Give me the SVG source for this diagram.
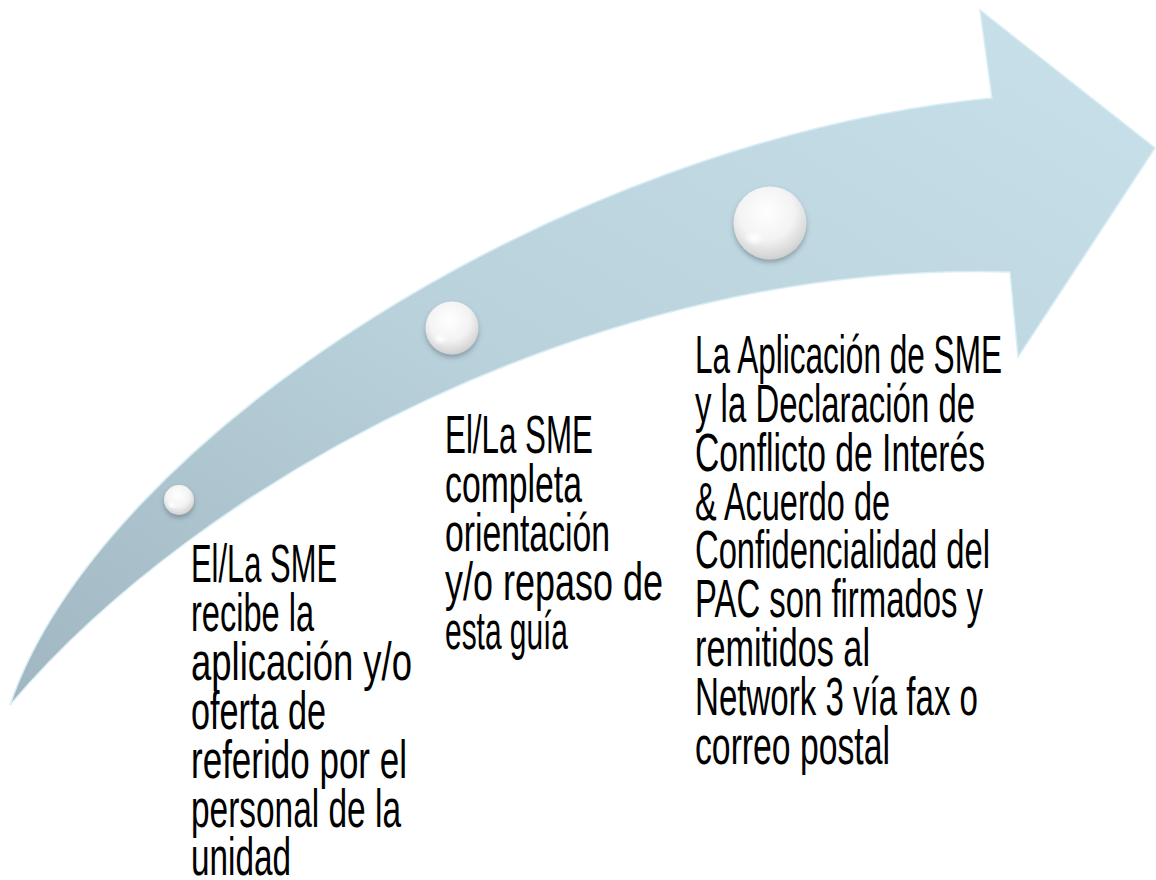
<svg xmlns="http://www.w3.org/2000/svg" width="1156" height="880" viewBox="0 0 1156 880">
  <defs>
    <linearGradient id="arrowFill" x1="0" y1="1" x2="1" y2="0">
      <stop offset="0" stop-color="#a0b7c2"/>
      <stop offset="0.45" stop-color="#b9d1db"/>
      <stop offset="1" stop-color="#c8e1eb"/>
    </linearGradient>
    <radialGradient id="ballFill" cx="0.45" cy="0.35" r="0.7">
      <stop offset="0" stop-color="#ffffff"/>
      <stop offset="0.55" stop-color="#f3f3f3"/>
      <stop offset="0.85" stop-color="#d8d8d8"/>
      <stop offset="1" stop-color="#c6c6c6"/>
    </radialGradient>
    <radialGradient id="ballHi" cx="0.5" cy="0.5" r="0.5">
      <stop offset="0" stop-color="#ffffff" stop-opacity="1"/>
      <stop offset="1" stop-color="#ffffff" stop-opacity="0"/>
    </radialGradient>
    <filter id="ballShadow" x="-40%" y="-40%" width="180%" height="190%">
      <feDropShadow dx="0" dy="3" stdDeviation="2.5" flood-color="#4a5a62" flood-opacity="0.45"/>
    </filter>
  </defs>
  <style>
    .arrow { fill: url(#arrowFill); stroke: #d9edf4; stroke-width: 1.5; stroke-linejoin: miter; }
    .ball { fill: url(#ballFill); filter: url(#ballShadow); }
    .hi { fill: url(#ballHi); }
    .lbl { font-family: "Liberation Sans", Arial, sans-serif; font-size: 53px; fill: #000000; }
  </style>

  <g id="arrow">
    <path class="arrow" d="M10,705 C100,440 560,140 992,98 L980,10 L1155,148 L1018,357 L1010,272 C600,260 200,480 10,705 Z"/>
  </g>

  <g id="connectors"></g>

  <g id="step1">
    <circle class="ball" cx="179" cy="500" r="15"/>
    <ellipse class="hi" cx="172" cy="505" rx="5" ry="4"/>
    <text class="lbl">
      <tspan x="191" y="582" textLength="146" lengthAdjust="spacingAndGlyphs">El/La SME</tspan>
      <tspan x="191" y="631" textLength="123" lengthAdjust="spacingAndGlyphs">recibe la</tspan>
      <tspan x="191" y="680" textLength="221" lengthAdjust="spacingAndGlyphs">aplicación y/o</tspan>
      <tspan x="191" y="729" textLength="135" lengthAdjust="spacingAndGlyphs">oferta de</tspan>
      <tspan x="191" y="778" textLength="216" lengthAdjust="spacingAndGlyphs">referido por el</tspan>
      <tspan x="191" y="827" textLength="210" lengthAdjust="spacingAndGlyphs">personal de la</tspan>
      <tspan x="191" y="875" textLength="100" lengthAdjust="spacingAndGlyphs">unidad</tspan>
    </text>
  </g>

  <g id="step2">
    <circle class="ball" cx="452" cy="328" r="26.5"/>
    <ellipse class="hi" cx="440" cy="339" rx="8" ry="6"/>
    <text class="lbl">
      <tspan x="445" y="453" textLength="148" lengthAdjust="spacingAndGlyphs">El/La SME</tspan>
      <tspan x="445" y="502" textLength="137" lengthAdjust="spacingAndGlyphs">completa</tspan>
      <tspan x="445" y="551" textLength="165" lengthAdjust="spacingAndGlyphs">orientación</tspan>
      <tspan x="445" y="600" textLength="218" lengthAdjust="spacingAndGlyphs">y/o repaso de</tspan>
      <tspan x="445" y="649" textLength="123" lengthAdjust="spacingAndGlyphs">esta guía</tspan>
    </text>
  </g>

  <g id="step3">
    <circle class="ball" cx="770" cy="223" r="36.5"/>
    <ellipse class="hi" cx="754" cy="238" rx="11" ry="8"/>
    <text class="lbl">
      <tspan x="695" y="373" textLength="307" lengthAdjust="spacingAndGlyphs">La Aplicación de SME</tspan>
      <tspan x="695" y="422" textLength="280" lengthAdjust="spacingAndGlyphs">y la Declaración de</tspan>
      <tspan x="695" y="471" textLength="290" lengthAdjust="spacingAndGlyphs">Conflicto de Interés</tspan>
      <tspan x="695" y="520" textLength="195" lengthAdjust="spacingAndGlyphs">&amp; Acuerdo de</tspan>
      <tspan x="695" y="568" textLength="295" lengthAdjust="spacingAndGlyphs">Confidencialidad del</tspan>
      <tspan x="695" y="617" textLength="288" lengthAdjust="spacingAndGlyphs">PAC son firmados y</tspan>
      <tspan x="695" y="666" textLength="175" lengthAdjust="spacingAndGlyphs">remitidos al</tspan>
      <tspan x="695" y="715" textLength="283" lengthAdjust="spacingAndGlyphs">Network 3 vía fax o</tspan>
      <tspan x="695" y="764" textLength="195" lengthAdjust="spacingAndGlyphs">correo postal</tspan>
    </text>
  </g>
</svg>
